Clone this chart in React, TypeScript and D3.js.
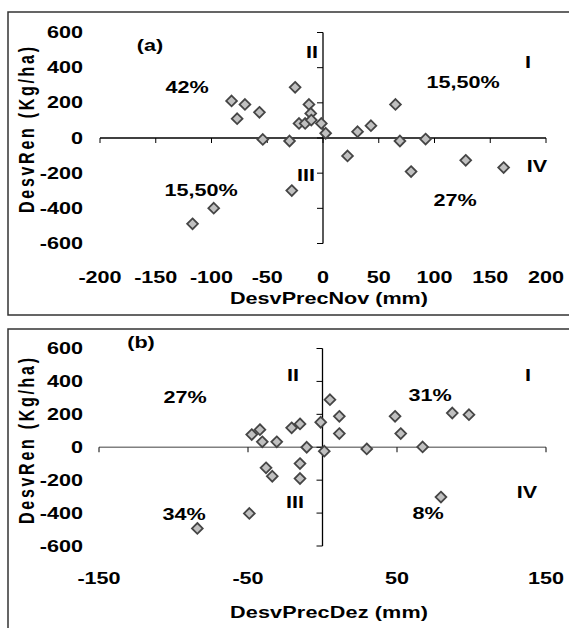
import React from 'react';
import * as d3 from 'd3';

// panel (a): November precipitation deviation vs yield deviation
const novX = [-82, -70, -77, -57, -54, -98, -117, -25, -30, -12.6, -11, -21.5, -16, -10.5, -1.5, 2.4, -28, 22, 31, 43, 65, 69, 79, 92, 128, 162];
const novY = [211, 191, 110, 146, -8, -399, -488, 288, -17, 191, 140, 83, 83, 102, 83, 27, -299, -102, 36, 70, 191, -17, -191, -6, -127, -168];

// panel (b): December precipitation deviation vs yield deviation
const dezX = [-47.5, -42, -40.4, -30.7, -20.7, -15.1, -1.2, -10.6, 1.2, -37.9, -33.7, -15.1, -15.1, -49.1, -84, 5, 11.3, 11.3, 29.7, 48.7, 52.5, 67.2, 87.1, 98.3, 79.5];
const dezY = [77, 107, 33, 33, 118, 142, 152, 0, -24, -125, -176, -99, -190, -402, -493, 289, 188, 83, -10, 188, 83, 2, 208, 198, -303];

const yTicks = [600, 400, 200, 0, -200, -400, -600];
const novTicks = [-200, -150, -100, -50, 0, 50, 100, 150, 200];
const dezTicks = [-150, -50, 50, 150];

const panels = [
  {
    id: 'a', top: 12, bottom: 315,
    xs: novX, ys: novY, xDomain: [-200, 200], xRange: [100, 546], yRange: [243.5, 32.5],
    xTicks: novTicks, xLabelY: 277, titleY: 298, title: 'DesvPrecNov (mm)', xAxisColor: '#000',
    yTitleY: 130,
    notes: [
      { t: '(a)', x: 150, y: 45 }, { t: '42%', x: 187, y: 87 }, { t: '15,50%', x: 201, y: 190 },
      { t: 'II', x: 312, y: 52 }, { t: 'I', x: 528, y: 62 }, { t: '15,50%', x: 463, y: 82 },
      { t: 'III', x: 306, y: 175 }, { t: 'IV', x: 537, y: 166 }, { t: '27%', x: 455, y: 200 },
    ],
  },
  {
    id: 'b', top: 329, bottom: 640,
    xs: dezX, ys: dezY, xDomain: [-150, 150], xRange: [99, 546], yRange: [546, 348.5],
    xTicks: dezTicks, xLabelY: 578, titleY: 612, title: 'DesvPrecDez (mm)', xAxisColor: '#808080',
    yTitleY: 441,
    notes: [
      { t: '(b)', x: 141, y: 342 }, { t: '27%', x: 185, y: 397 }, { t: '34%', x: 184, y: 514 },
      { t: 'II', x: 293, y: 375 }, { t: 'I', x: 528, y: 375 }, { t: '31%', x: 430, y: 395 },
      { t: 'III', x: 295, y: 502 }, { t: 'IV', x: 527, y: 492 }, { t: '8%', x: 428, y: 513 },
    ],
  },
];

const font = '"Liberation Sans", Arial, sans-serif';
const sx = 1.35; // the source text is drawn horizontally stretched

const Label = ({ x, y, anchor, len, children }:
  { x: number; y: number; anchor: string; len?: number; children: React.ReactNode }) => (
  <text transform={`translate(${x},${y}) scale(${sx},1)`} dy="0.35em" textAnchor={anchor}
    fontFamily={font} fontWeight="bold" fontSize={16} fill="#000"
    textLength={len} lengthAdjust={len ? 'spacing' : undefined}>{children}</text>
);

const Panel = ({ p }: { p: typeof panels[number] }) => {
  const x = d3.scaleLinear().domain(p.xDomain).range(p.xRange);
  const y = d3.scaleLinear().domain([-600, 600]).range(p.yRange);
  const diamond = d3.symbol().type(d3.symbolDiamond2).size(74)();
  const x0 = x(0), y0 = y(0);
  return (
    <g>
      <rect x={8} y={p.top} width={600} height={p.bottom - p.top} fill="#fff" stroke="#333" strokeWidth={1.5} />
      {/* axes */}
      <line x1={p.xRange[0]} x2={p.xRange[1]} y1={y0} y2={y0} stroke={p.xAxisColor} strokeWidth={1.3} />
      {p.xTicks.map(t => (
        <line key={t} x1={x(t)} x2={x(t)} y1={y0} y2={y0 + 5} stroke="#000" strokeWidth={1} />
      ))}
      <line x1={x0} x2={x0} y1={y(600)} y2={y(-600)} stroke="#000" strokeWidth={1.3} />
      {yTicks.map(t => (
        <line key={t} x1={x0 - 6} x2={x0} y1={y(t)} y2={y(t)} stroke="#000" strokeWidth={1} />
      ))}
      {/* tick labels and notes */}
      {yTicks.map(t => <Label key={t} x={83} y={y(t)} anchor="end">{t}</Label>)}
      {p.xTicks.map(t => <Label key={t} x={x(t)} y={p.xLabelY} anchor="middle">{t}</Label>)}
      {p.notes.map((n, i) => <Label key={i} x={n.x} y={n.y} anchor="middle">{n.t}</Label>)}
      <Label x={329} y={p.titleY} anchor="middle" len={198 / sx}>{p.title}</Label>
      <text transform={`translate(26,${p.yTitleY}) scale(${sx},1) rotate(-90)`} dy="0.35em" textAnchor="middle"
        fontFamily={font} fontWeight="bold" fontSize={16} textLength={166} lengthAdjust="spacing">DesvRen (Kg/ha)</text>
      {/* points */}
      {p.xs.map((v, i) => (
        <path key={i} d={diamond as string} transform={`translate(${x(v)},${y(p.ys[i])})`}
          fill="#c0c0c0" stroke="#454545" strokeWidth={1.8} />
      ))}
    </g>
  );
};

export default function App() {
  return (
    <svg width={569} height={628} style={{ position: 'absolute', left: 0, top: 0 }}>
      {panels.map(p => <Panel key={p.id} p={p} />)}
    </svg>
  );
}
